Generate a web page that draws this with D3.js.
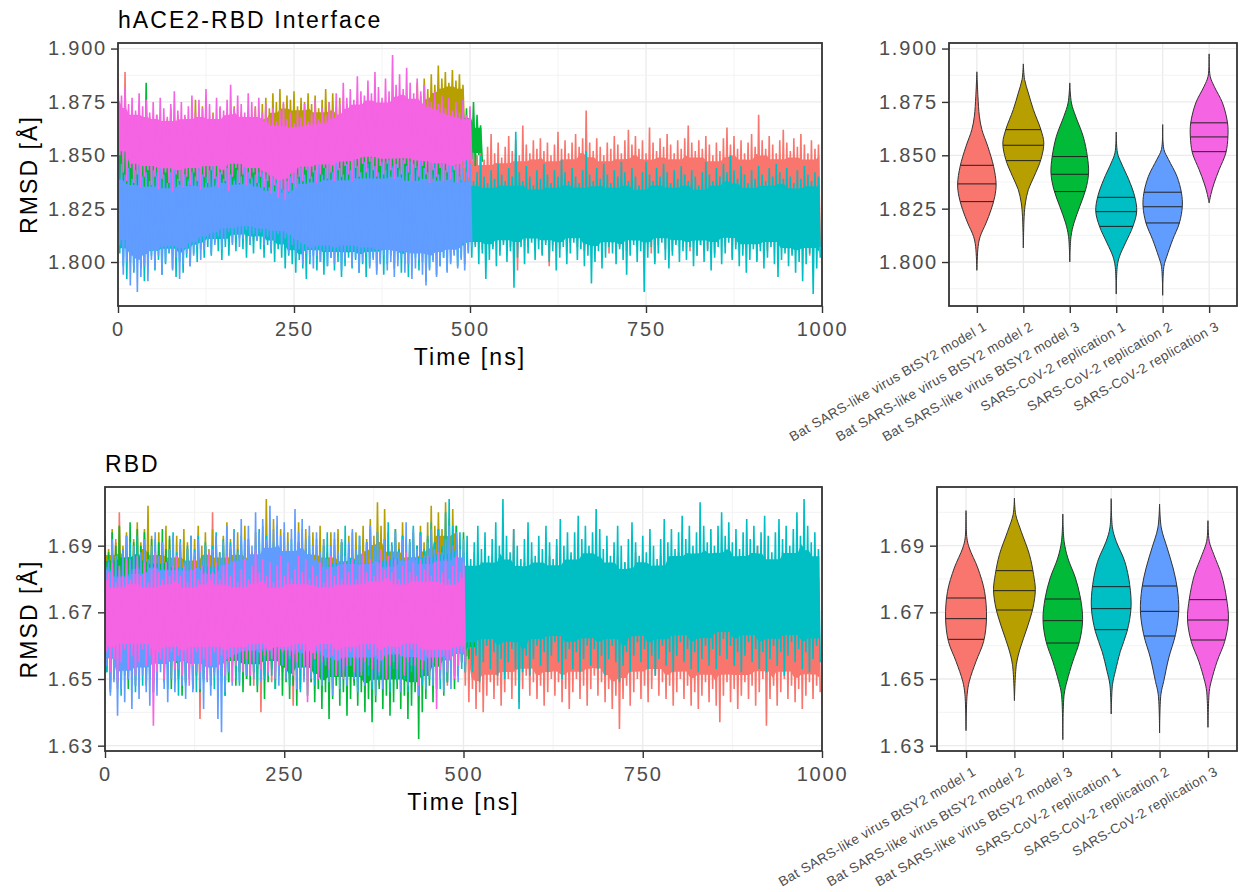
<!DOCTYPE html>
<html>
<head>
<meta charset="utf-8">
<script src="https://cdn.jsdelivr.net/npm/d3@7"></script>
<style>
  body { margin: 0; background: #fff; }
  text { font-family: "Liberation Sans", Arial, sans-serif; letter-spacing: 0.09em; }
</style>
</head>
<body>
<svg id="chart" width="1241" height="892"></svg>
<script>
// groups in the order ggplot draws them
const groups = [
  "Bat SARS-like virus BtSY2 model 1",
  "Bat SARS-like virus BtSY2 model 2",
  "Bat SARS-like virus BtSY2 model 3",
  "SARS-CoV-2 replication 1",
  "SARS-CoV-2 replication 2",
  "SARS-CoV-2 replication 3"
];
const groupColors = ["#F8766D", "#B79F00", "#00BA38", "#00BFC4", "#619CFF", "#F564E3"];

// traces are kept as upper / lower envelope per 5 ns bin,
// in mÅ above a panel base: RMSD = (base + value) / 1000 Å
const binNs = 5;
const timeBreaks = [0, 250, 500, 750, 1000];

// ---- hACE2-RBD interface (base 1780 mÅ) ----
const ifaceBase = 1780;
const ifaceM1Hi = [
  100, 92, 109, 86, 79, 74, 80, 76, 72, 78,
  75, 81, 73, 77, 70, 76, 80, 74, 78, 72,
  77, 73, 79, 75, 71, 78, 74, 80, 76, 72,
  78, 74, 70, 76, 82, 75, 79, 73, 77, 71,
  76, 80, 74, 78, 72, 77, 73, 79, 75, 71,
  77, 73, 78, 74, 80, 76, 72, 78, 74, 81,
  75, 79, 73, 77, 83, 76, 80, 74, 78, 72,
  77, 81, 75, 79, 73, 78, 84, 77, 80, 74,
  78, 73, 79, 75, 81, 76, 72, 78, 74, 80,
  75, 79, 73, 77, 82, 76, 80, 74, 78, 75,
  72, 78, 70, 75, 68, 74, 80, 71, 76, 69,
  74, 79, 72, 77, 70, 84, 75, 71, 77, 73,
  78, 72, 76, 70, 75, 81, 73, 77, 71, 76,
  80, 74, 78, 91, 76, 72, 78, 74, 70, 76,
  73, 79, 75, 71, 77, 82, 75, 79, 73, 77,
  71, 83, 76, 72, 78, 74, 80, 75, 71, 77,
  73, 78, 84, 76, 72, 77, 73, 79, 75, 70,
  76, 72, 78, 83, 75, 79, 73, 77, 71, 76,
  80, 74, 89, 77, 73, 79, 75, 71, 77, 82,
  76, 72, 78, 74, 80, 75, 71, 77, 73, 75
];
const ifaceM1Lo = [
  36, 30, 34, 28, 33, 37, 31, 35, 29, 34,
  38, 32, 36, 30, 35, 39, 33, 37, 31, 36,
  34, 38, 32, 36, 40, 34, 38, 33, 37, 35,
  39, 33, 37, 31, 35, 38, 32, 36, 30, 34,
  37, 31, 35, 29, 33, 36, 30, 34, 28, 32,
  35, 29, 33, 27, 31, 35, 29, 33, 37, 31,
  34, 28, 32, 36, 30, 34, 27, 31, 35, 29,
  33, 37, 31, 35, 28, 32, 36, 30, 34, 29,
  32, 36, 30, 34, 27, 31, 35, 29, 33, 37,
  31, 35, 29, 33, 37, 31, 34, 28, 32, 35,
  33, 28, 31, 26, 30, 34, 27, 31, 25, 29,
  33, 27, 31, 16, 29, 33, 27, 31, 26, 30,
  24, 29, 18, 28, 32, 26, 30, 25, 29, 33,
  27, 31, 25, 29, 33, 28, 32, 26, 30, 24,
  29, 33, 27, 31, 25, 30, 34, 28, 32, 26,
  30, 24, 20, 28, 32, 26, 30, 25, 29, 33,
  27, 31, 25, 29, 23, 28, 32, 26, 30, 24,
  29, 33, 27, 31, 22, 28, 32, 26, 30, 25,
  29, 21, 27, 31, 25, 29, 33, 27, 31, 26,
  30, 24, 28, 32, 26, 30, 23, 28, 32, 27
];
const ifaceM2Hi = [
  88, 84, 90, 86, 82, 87, 91, 85, 83, 88,
  84, 89, 86, 82, 87, 92, 85, 89, 84, 88,
  86, 91, 96, 87, 93, 88, 85, 90, 86, 92,
  88, 84, 89, 93, 86, 90, 85, 91, 87, 93,
  89, 94, 97, 92, 99, 95, 101, 94, 98, 96,
  100, 93, 97, 95, 99, 94, 98, 92, 96, 101,
  95, 99, 93, 97, 90, 94, 89, 93, 88, 92,
  87, 91, 95, 89, 93, 88, 92, 96, 90, 94,
  89, 93, 97, 91, 95, 104, 98, 106, 101, 108,
  103, 112, 106, 109, 104, 110, 105, 108, 103
];
const ifaceM2Lo = [
  58, 53, 57, 51, 56, 60, 54, 58, 52, 56,
  50, 55, 27, 53, 57, 51, 56, 59, 54, 58,
  53, 57, 51, 55, 59, 54, 58, 52, 56, 60,
  55, 59, 53, 57, 51, 56, 60, 54, 58, 53,
  57, 61, 56, 60, 64, 58, 62, 66, 60, 64,
  59, 63, 67, 61, 65, 60, 64, 68, 62, 66,
  61, 65, 59, 63, 67, 62, 66, 60, 64, 68,
  63, 67, 61, 65, 69, 64, 68, 62, 66, 70,
  65, 69, 63, 67, 71, 66, 70, 74, 68, 72,
  76, 72, 78, 74, 80, 75, 79, 73, 77
];
const ifaceM3Hi = [
  84, 88, 80, 86, 82, 79, 85, 81, 104, 83,
  79, 84, 80, 77, 83, 86, 80, 84, 78, 82,
  85, 79, 83, 80, 76, 82, 86, 79, 83, 81,
  77, 82, 78, 84, 80, 76, 81, 85, 79, 83,
  80, 77, 82, 78, 75, 81, 84, 79, 82, 77,
  81, 85, 80, 83, 78, 82, 86, 80, 84, 81,
  86, 82, 88, 84, 81, 87, 83, 89, 85, 82,
  88, 84, 81, 86, 90, 85, 82, 87, 84, 89,
  85, 82, 87, 83, 89, 86, 82, 88, 84, 90,
  86, 83, 88, 85, 91, 87, 93, 89, 96, 92,
  91, 95, 89, 84
];
const ifaceM3Lo = [
  52, 46, 50, 44, 49, 53, 47, 42, 48, 51,
  45, 49, 43, 48, 52, 46, 50, 44, 49, 47,
  51, 45, 49, 43, 47, 52, 46, 50, 44, 48,
  45, 49, 43, 47, 41, 46, 50, 44, 48, 42,
  47, 51, 45, 49, 43, 48, 52, 46, 50, 44,
  48, 52, 46, 50, 54, 49, 53, 47, 51, 45,
  50, 54, 48, 52, 56, 50, 54, 49, 53, 57,
  51, 55, 49, 53, 57, 52, 56, 50, 54, 58,
  52, 56, 50, 54, 58, 53, 57, 51, 55, 59,
  54, 58, 52, 56, 60, 55, 59, 62, 66, 63,
  68, 65, 70, 67
];
const ifaceR1Hi = [
  66, 60, 57, 62, 55, 59, 63, 56, 60, 54,
  58, 62, 55, 59, 53, 57, 61, 56, 60, 55,
  59, 54, 58, 62, 56, 60, 57, 53, 58, 61,
  56, 60, 55, 59, 63, 57, 61, 56, 60, 58,
  62, 57, 61, 55, 59, 64, 58, 62, 56, 60,
  57, 61, 65, 59, 63, 58, 62, 56, 60, 64,
  58, 62, 66, 60, 57, 63, 59, 64, 61, 58,
  62, 66, 60, 64, 59, 63, 67, 61, 65, 60,
  64, 59, 63, 67, 61, 65, 60, 64, 58, 62,
  66, 61, 65, 60, 64, 68, 62, 66, 61, 68,
  64, 58, 62, 70, 60, 57, 63, 59, 66, 61,
  58, 64, 60, 81, 62, 58, 65, 60, 56, 63,
  59, 66, 61, 57, 63, 60, 68, 62, 58, 64,
  60, 57, 63, 72, 61, 58, 64, 59, 66, 61,
  57, 63, 60, 67, 62, 58, 64, 60, 56, 62,
  67, 61, 58, 64, 60, 66, 62, 57, 63, 59,
  65, 61, 58, 63, 60, 56, 62, 67, 61, 58,
  64, 60, 66, 62, 70, 63, 59, 65, 61, 57,
  63, 59, 65, 61, 58, 64, 60, 66, 62, 59,
  64, 60, 57, 63, 59, 65, 61, 58, 62, 60
];
const ifaceR1Lo = [
  24, 18, 12, 20, 15, 22, 17, 11, 19, 23,
  16, 21, 14, 19, 24, 17, 13, 20, 15, 22,
  18, 24, 20, 26, 22, 27, 23, 29, 25, 21,
  27, 23, 29, 25, 31, 26, 22, 28, 24, 30,
  26, 22, 28, 24, 20, 26, 22, 17, 23, 19,
  15, 21, 17, 12, 19, 23, 16, 20, 14, 18,
  22, 16, 20, 13, 18, 22, 17, 21, 15, 19,
  13, 18, 22, 16, 20, 14, 19, 23, 17, 21,
  15, 19, 13, 18, 22, 16, 20, 11, 17, 21,
  14, 18, 22, 16, 20, 24, 18, 22, 19, 25,
  22, 27, 19, 24, 12, 21, 26, 18, 23, 28,
  20, 25, 8, 22, 27, 19, 24, 29, 21, 26,
  23, 28, 20, 25, 16, 22, 27, 19, 24, 29,
  21, 26, 18, 23, 10, 20, 25, 17, 22, 27,
  24, 19, 26, 21, 14, 23, 28, 20, 25, 6,
  22, 27, 19, 24, 29, 21, 17, 23, 28, 20,
  25, 21, 27, 18, 23, 28, 20, 25, 16, 22,
  27, 19, 24, 29, 21, 26, 18, 23, 15, 21,
  26, 20, 25, 17, 22, 27, 19, 13, 21, 24,
  18, 23, 15, 20, 11, 19, 24, 5, 17, 22
];
const ifaceR2Hi = [
  72, 66, 61, 64, 59, 63, 67, 60, 62, 58,
  63, 60, 65, 61, 57, 62, 66, 59, 63, 61,
  58, 62, 60, 64, 61, 57, 63, 66, 60, 62,
  59, 64, 61, 58, 63, 60, 65, 62, 59, 61,
  57, 62, 59, 55, 60, 57, 61, 54, 58, 60,
  62, 59, 64, 61, 65, 60, 63, 67, 61, 64,
  66, 62, 68, 64, 61, 66, 63, 69, 65, 62,
  67, 64, 69, 65, 62, 67, 63, 68, 64, 66,
  63, 68, 65, 61, 66, 63, 69, 64, 62, 67,
  64, 61, 66, 63, 68, 62, 65, 60, 64, 62,
  66
];
const ifaceR2Lo = [
  28, 14, 20, 9, 16, 6, 13, 18, 11, 21,
  17, 23, 14, 20, 25, 16, 22, 12, 19, 24,
  18, 23, 27, 21, 26, 30, 24, 28, 32, 26,
  30, 34, 28, 32, 27, 31, 35, 29, 33, 30,
  34, 28, 32, 26, 30, 33, 27, 31, 24, 28,
  22, 26, 19, 24, 21, 17, 23, 20, 25, 18,
  22, 19, 24, 16, 21, 25, 18, 22, 15, 20,
  24, 17, 21, 14, 19, 23, 16, 20, 13, 18,
  22, 15, 19, 12, 17, 21, 14, 9, 16, 20,
  13, 18, 22, 15, 19, 23, 17, 21, 16, 24,
  27
];
const ifaceR3Hi = [
  106, 98, 102, 94, 97, 91, 99, 93, 96, 90,
  95, 89, 97, 92, 88, 94, 100, 91, 95, 89,
  93, 98, 90, 96, 92, 101, 94, 89, 97, 93,
  91, 96, 103, 92, 98, 94, 90, 99, 95, 92,
  97, 90, 94, 88, 92, 86, 91, 95, 87, 90,
  85, 91, 88, 94, 86, 90, 96, 87, 92, 89,
  95, 91, 99, 94, 104, 97, 101, 96, 107, 100,
  98, 105, 99, 109, 102, 97, 106, 100, 117, 103,
  108, 101, 111, 104, 99, 106, 100, 103, 97, 95,
  100, 94, 98, 92, 97, 91, 95, 90, 96, 89,
  93
];
const ifaceR3Lo = [
  70, 62, 58, 64, 57, 61, 55, 60, 63, 56,
  60, 54, 59, 62, 57, 53, 61, 58, 55, 60,
  56, 62, 58, 54, 60, 57, 63, 59, 55, 61,
  58, 53, 60, 64, 57, 61, 56, 59, 62, 57,
  60, 55, 58, 52, 56, 50, 54, 49, 53, 57,
  55, 60, 58, 63, 59, 62, 57, 61, 64, 59,
  62, 58, 63, 60, 65, 61, 58, 64, 60, 66,
  62, 67, 63, 60, 65, 61, 66, 63, 59, 64,
  61, 66, 62, 58, 64, 60, 65, 61, 57, 63,
  60, 64, 58, 62, 59, 63, 57, 61, 64, 60,
  66
];

// ---- RBD (base 1630 mÅ) ----
const rbdBase = 1630;
const rbdM1Hi = [
  58, 53, 57, 62, 70, 55, 51, 57, 53, 58,
  52, 56, 51, 55, 60, 54, 50, 56, 52, 57,
  53, 58, 52, 56, 51, 55, 59, 54, 50, 56,
  70, 55, 51, 57, 53, 58, 52, 56, 51, 55,
  59, 53, 57, 52, 56, 50, 55, 59, 54, 58,
  52, 56, 51, 55, 60, 54, 58, 53, 57, 52,
  56, 51, 55, 59, 53, 57, 52, 56, 50, 55,
  59, 53, 57, 52, 56, 61, 55, 59, 54, 58,
  53, 57, 52, 56, 51, 55, 59, 54, 58, 53,
  57, 52, 56, 60, 54, 58, 53, 57, 52, 56,
  54, 49, 53, 58, 51, 55, 49, 53, 57, 50,
  54, 48, 52, 56, 65, 53, 49, 55, 51, 56,
  50, 54, 48, 52, 57, 51, 60, 54, 49, 53,
  57, 51, 55, 49, 53, 58, 52, 63, 55, 50,
  54, 48, 52, 57, 51, 55, 49, 53, 58, 52,
  56, 50, 54, 48, 52, 57, 51, 55, 49, 54,
  58, 52, 56, 50, 54, 49, 53, 57, 51, 55,
  49, 53, 58, 52, 56, 50, 54, 48, 53, 57,
  51, 55, 60, 53, 57, 51, 55, 49, 54, 58,
  52, 56, 50, 54, 59, 53, 57, 51, 55, 50
];
const rbdM1Lo = [
  24, 19, 23, 17, 22, 26, 20, 24, 18, 23,
  27, 21, 25, 19, 24, 28, 22, 26, 20, 25,
  21, 25, 19, 23, 17, 22, 8, 20, 24, 18,
  23, 27, 21, 25, 19, 24, 28, 22, 26, 20,
  24, 18, 23, 10, 21, 25, 19, 24, 28, 22,
  26, 20, 12, 22, 26, 20, 25, 19, 23, 27,
  21, 25, 19, 24, 28, 22, 26, 20, 25, 19,
  23, 27, 21, 26, 20, 24, 18, 23, 27, 21,
  25, 19, 24, 28, 22, 26, 20, 25, 19, 23,
  27, 21, 26, 20, 24, 18, 23, 27, 21, 25,
  18, 13, 17, 11, 16, 10, 15, 19, 14, 18,
  12, 16, 20, 14, 18, 13, 17, 21, 15, 19,
  14, 18, 12, 16, 20, 15, 19, 13, 17, 11,
  16, 20, 14, 18, 12, 17, 21, 15, 19, 13,
  17, 11, 15, 5, 14, 18, 12, 16, 20, 14,
  18, 13, 17, 21, 15, 19, 14, 18, 12, 16,
  20, 14, 18, 12, 16, 11, 15, 19, 13, 17,
  12, 7, 15, 19, 13, 17, 11, 15, 19, 14,
  18, 12, 16, 20, 6, 14, 18, 12, 16, 20,
  14, 18, 13, 17, 11, 15, 19, 14, 18, 16
];
const rbdM2Hi = [
  63, 59, 65, 61, 66, 60, 64, 58, 62, 67,
  61, 65, 72, 63, 59, 64, 60, 66, 62, 58,
  63, 59, 65, 61, 57, 62, 66, 60, 64, 59,
  65, 61, 58, 63, 67, 62, 59, 64, 60, 66,
  62, 58, 64, 60, 66, 74, 63, 68, 61, 65,
  60, 64, 58, 63, 67, 61, 65, 59, 64, 60,
  66, 62, 58, 64, 60, 65, 61, 57, 63, 59,
  64, 60, 66, 62, 68, 63, 73, 66, 71, 64,
  60, 65, 61, 67, 62, 58, 64, 60, 66, 61,
  67, 72, 66, 70, 65, 73, 68, 71, 66
];
const rbdM2Lo = [
  35, 30, 34, 29, 33, 37, 31, 35, 30, 34,
  28, 33, 25, 31, 35, 30, 34, 29, 33, 37,
  31, 35, 29, 34, 38, 32, 36, 30, 34, 29,
  33, 37, 31, 35, 30, 34, 28, 32, 36, 31,
  35, 29, 33, 37, 31, 36, 30, 34, 28, 32,
  36, 31, 35, 29, 33, 37, 32, 36, 30, 34,
  29, 33, 37, 31, 35, 30, 34, 28, 32, 36,
  31, 35, 29, 33, 38, 32, 36, 30, 34, 29,
  33, 37, 31, 35, 30, 34, 38, 32, 36, 31,
  35, 30, 34, 38, 32, 36, 31, 35, 33
];
const rbdM3Hi = [
  62, 58, 64, 60, 66, 59, 63, 67, 61, 65,
  60, 64, 58, 62, 57, 61, 65, 59, 63, 58,
  56, 60, 55, 59, 63, 57, 61, 56, 60, 54,
  58, 62, 56, 60, 55, 59, 63, 57, 61, 56,
  60, 54, 58, 62, 57, 61, 55, 59, 63, 58,
  54, 58, 53, 57, 61, 55, 59, 54, 58, 52,
  56, 60, 54, 58, 53, 57, 61, 55, 59, 54,
  58, 53, 57, 61, 55, 59, 54, 58, 62, 56,
  60, 55, 59, 63, 57, 61, 56, 60, 64, 58,
  62, 57, 61, 65, 59, 63, 58, 62, 66, 60,
  64, 58, 53, 49
];
const rbdM3Lo = [
  22, 16, 20, 25, 18, 23, 17, 21, 26, 19,
  24, 18, 22, 16, 21, 25, 19, 23, 17, 22,
  20, 15, 19, 23, 17, 21, 16, 20, 24, 18,
  22, 17, 21, 15, 19, 23, 18, 22, 16, 20,
  18, 22, 16, 20, 14, 19, 23, 17, 21, 15,
  19, 14, 18, 12, 17, 21, 15, 19, 13, 17,
  11, 16, 8, 14, 18, 12, 16, 9, 14, 18,
  12, 16, 10, 14, 7, 13, 17, 11, 15, 9,
  13, 17, 11, 15, 8, 12, 16, 2, 10, 14,
  18, 13, 17, 21, 15, 19, 23, 17, 21, 25,
  22, 26, 24, 28
];
const rbdR1Hi = [
  60, 56, 62, 57, 53, 59, 55, 61, 57, 63,
  56, 60, 54, 58, 62, 57, 61, 55, 59, 64,
  58, 62, 56, 60, 55, 59, 63, 57, 61, 56,
  60, 64, 58, 62, 57, 61, 65, 59, 63, 58,
  62, 56, 60, 65, 59, 63, 57, 61, 66, 60,
  64, 58, 62, 57, 61, 65, 59, 63, 58, 62,
  56, 60, 64, 58, 62, 57, 61, 66, 60, 64,
  59, 63, 57, 61, 65, 60, 64, 58, 62, 67,
  61, 65, 59, 63, 58, 62, 66, 60, 64, 59,
  63, 67, 61, 65, 60, 70, 74, 66, 62, 64,
  58, 63, 56, 61, 66, 59, 64, 57, 62, 67,
  60, 74, 63, 58, 65, 60, 56, 62, 67, 61,
  57, 63, 59, 66, 61, 56, 62, 68, 60, 64,
  58, 64, 69, 62, 66, 60, 64, 71, 65, 59,
  63, 57, 61, 66, 60, 55, 62, 67, 61, 57,
  63, 58, 65, 60, 56, 62, 68, 61, 65, 59,
  64, 69, 62, 66, 60, 64, 73, 66, 61, 65,
  60, 66, 70, 63, 67, 61, 65, 59, 64, 68,
  62, 66, 60, 64, 69, 63, 58, 64, 68, 62,
  66, 60, 65, 70, 63, 74, 66, 61, 64, 59
];
const rbdR1Lo = [
  22, 17, 24, 19, 15, 21, 26, 20, 16, 23,
  18, 25, 20, 16, 22, 27, 21, 17, 24, 19,
  15, 22, 18, 25, 20, 16, 23, 19, 26, 21,
  17, 24, 19, 15, 22, 26, 20, 18, 25, 21,
  27, 22, 18, 24, 20, 26, 21, 17, 23, 28,
  22, 18, 25, 20, 16, 23, 27, 21, 18, 24,
  19, 25, 21, 17, 23, 28, 22, 18, 24, 20,
  16, 22, 27, 21, 17, 24, 19, 25, 21, 16,
  23, 19, 25, 20, 16, 22, 27, 21, 18, 24,
  20, 26, 22, 17, 24, 19, 25, 21, 27, 23,
  24, 29, 22, 27, 19, 25, 30, 23, 28, 21,
  26, 20, 25, 29, 23, 11, 22, 27, 21, 26,
  30, 24, 28, 22, 27, 31, 25, 20, 26, 29,
  23, 28, 22, 26, 30, 24, 29, 23, 27, 21,
  26, 30, 25, 19, 24, 28, 22, 27, 31, 25,
  29, 23, 27, 21, 26, 30, 24, 28, 22, 27,
  31, 25, 29, 23, 28, 22, 26, 30, 24, 29,
  23, 27, 32, 26, 30, 24, 28, 22, 27, 31,
  25, 29, 23, 28, 22, 26, 30, 24, 28, 21,
  27, 31, 25, 29, 23, 28, 22, 26, 30, 25
];
const rbdR2Hi = [
  60, 55, 62, 57, 53, 59, 63, 56, 60, 54,
  58, 62, 56, 60, 64, 57, 61, 55, 59, 63,
  57, 61, 55, 59, 63, 58, 62, 56, 60, 54,
  59, 63, 57, 61, 66, 60, 64, 58, 68, 62,
  66, 60, 70, 64, 68, 62, 72, 65, 69, 63,
  67, 61, 65, 71, 64, 68, 62, 66, 60, 64,
  58, 62, 56, 60, 64, 58, 62, 57, 61, 65,
  59, 63, 57, 61, 66, 60, 64, 58, 62, 56,
  60, 64, 58, 62, 67, 61, 65, 59, 63, 57,
  61, 65, 59, 63, 58, 62, 66, 60, 64, 59,
  62
];
const rbdR2Lo = [
  24, 15, 19, 9, 17, 13, 20, 11, 18, 14,
  21, 16, 12, 19, 15, 22, 17, 13, 20, 16,
  23, 18, 14, 20, 16, 22, 17, 11, 19, 15,
  21, 8, 4, 16, 22, 18, 24, 19, 25, 21,
  26, 20, 24, 19, 25, 21, 27, 22, 18, 24,
  20, 26, 21, 17, 23, 19, 25, 20, 26, 22,
  18, 24, 19, 15, 21, 17, 23, 18, 24, 20,
  16, 22, 18, 24, 19, 15, 21, 17, 23, 19,
  25, 20, 16, 22, 18, 24, 19, 15, 21, 17,
  23, 18, 24, 20, 16, 22, 17, 23, 19, 25,
  22
];
const rbdR3Hi = [
  58, 52, 55, 49, 54, 51, 56, 50, 53, 57,
  51, 55, 49, 53, 58, 52, 50, 55, 51, 54,
  57, 51, 54, 49, 53, 56, 50, 54, 52, 58,
  52, 55, 50, 54, 57, 51, 55, 49, 53, 56,
  50, 54, 59, 52, 56, 51, 55, 49, 54, 57,
  51, 55, 50, 53, 57, 52, 56, 50, 54, 51,
  55, 49, 53, 57, 51, 54, 50, 55, 52, 56,
  50, 54, 58, 52, 56, 51, 55, 59, 53, 57,
  52, 56, 50, 54, 58, 52, 55, 51, 56, 53,
  57, 51, 55, 58, 52, 56, 50, 54, 57, 52,
  55
];
const rbdR3Lo = [
  28, 22, 26, 19, 25, 29, 23, 27, 21, 25,
  29, 24, 27, 6, 22, 26, 20, 25, 28, 23,
  27, 21, 25, 18, 24, 28, 22, 26, 20, 24,
  28, 23, 27, 21, 25, 19, 24, 28, 22, 26,
  21, 25, 29, 23, 27, 22, 26, 20, 24, 28,
  23, 27, 21, 25, 29, 24, 13, 22, 26, 20,
  25, 29, 23, 27, 21, 26, 20, 24, 28, 22,
  26, 21, 25, 29, 23, 27, 22, 26, 20, 24,
  28, 23, 27, 21, 25, 29, 24, 18, 23, 27,
  21, 25, 11, 23, 27, 22, 26, 20, 24, 28,
  25
];

// ---- violin profiles: RMSD level (Å) and relative density width ----
const ifaceViolinLevels = [
  [1.8891, 1.8777, 1.8683, 1.8620, 1.8542, 1.8448, 1.8366, 1.8308, 1.8245, 1.8183, 1.8120, 1.8073, 1.7961],
  [1.8928, 1.8855, 1.8792, 1.8714, 1.8620, 1.8558, 1.8480, 1.8402, 1.8339, 1.8277, 1.8214, 1.8066],
  [1.8839, 1.8745, 1.8683, 1.8589, 1.8495, 1.8417, 1.8339, 1.8261, 1.8183, 1.8120, 1.8000],
  [1.8609, 1.8511, 1.8464, 1.8386, 1.8308, 1.8238, 1.8167, 1.8089, 1.8027, 1.7980, 1.7850],
  [1.8644, 1.8527, 1.8480, 1.8402, 1.8323, 1.8261, 1.8183, 1.8105, 1.8027, 1.7980, 1.7844],
  [1.8975, 1.8870, 1.8823, 1.8745, 1.8652, 1.8589, 1.8511, 1.8433, 1.8370, 1.8323, 1.8277]
];
const ifaceViolinDensity = [
  [0, 0.05, 0.12, 0.24, 0.52, 0.80, 0.92, 0.86, 0.68, 0.44, 0.16, 0.06, 0],
  [0, 0.06, 0.24, 0.48, 0.84, 0.98, 0.84, 0.52, 0.24, 0.10, 0.04, 0],
  [0, 0.08, 0.28, 0.64, 0.84, 0.90, 0.76, 0.48, 0.20, 0.06, 0],
  [0, 0.06, 0.24, 0.60, 0.88, 0.98, 0.80, 0.44, 0.16, 0.05, 0],
  [0, 0.06, 0.28, 0.68, 0.90, 0.94, 0.80, 0.48, 0.20, 0.06, 0],
  [0, 0.05, 0.24, 0.64, 0.88, 0.90, 0.80, 0.48, 0.24, 0.10, 0]
];
const ifaceQuantiles = [
  [1.8283, 1.8366, 1.8453],
  [1.8475, 1.8547, 1.8620],
  [1.8330, 1.8411, 1.8494],
  [1.8167, 1.8236, 1.8303],
  [1.8183, 1.8259, 1.8327],
  [1.8517, 1.8586, 1.8652]
];
const rbdViolinLevels = [
  [1.7005, 1.6923, 1.6893, 1.6833, 1.6763, 1.6683, 1.6613, 1.6553, 1.6493, 1.6453, 1.6345],
  [1.7043, 1.6993, 1.6943, 1.6873, 1.6813, 1.6768, 1.6713, 1.6653, 1.6593, 1.6543, 1.6435],
  [1.6995, 1.6913, 1.6863, 1.6803, 1.6743, 1.6678, 1.6613, 1.6553, 1.6493, 1.6453, 1.6318],
  [1.7041, 1.6953, 1.6913, 1.6853, 1.6783, 1.6713, 1.6643, 1.6583, 1.6523, 1.6483, 1.6395],
  [1.7025, 1.6953, 1.6893, 1.6833, 1.6773, 1.6703, 1.6633, 1.6563, 1.6493, 1.6453, 1.6338],
  [1.6975, 1.6913, 1.6873, 1.6813, 1.6743, 1.6678, 1.6613, 1.6553, 1.6493, 1.6463, 1.6355]
];
const rbdViolinDensity = [
  [0, 0.04, 0.15, 0.54, 0.85, 0.94, 0.81, 0.46, 0.15, 0.05, 0],
  [0, 0.06, 0.31, 0.69, 0.88, 0.96, 0.85, 0.58, 0.27, 0.09, 0],
  [0, 0.06, 0.23, 0.58, 0.81, 0.91, 0.77, 0.46, 0.19, 0.06, 0],
  [0, 0.06, 0.23, 0.62, 0.85, 0.91, 0.73, 0.42, 0.19, 0.06, 0],
  [0, 0.08, 0.35, 0.62, 0.81, 0.88, 0.73, 0.42, 0.19, 0.06, 0],
  [0, 0.06, 0.27, 0.62, 0.85, 0.94, 0.77, 0.42, 0.15, 0.06, 0]
];
const rbdQuantiles = [
  [1.6619, 1.6681, 1.6743],
  [1.6707, 1.6765, 1.6825],
  [1.6608, 1.6675, 1.6740],
  [1.6648, 1.6711, 1.6777],
  [1.6629, 1.6703, 1.6779],
  [1.6617, 1.6677, 1.6738]
];

const ifaceBreaks = [1.800, 1.825, 1.850, 1.875, 1.900];
const rbdBreaks = [1.63, 1.65, 1.67, 1.69];

const svg = d3.select("#chart");
const tickLen = 7;

// hi / lo envelope as a zigzag polyline in (ns, Å)
function zigzag(s) {
  const pts = [];
  s.hi.forEach((h, i) => {
    pts.push([i * binNs, (s.base + h) / 1000]);
    if (s.lo[i] !== undefined) pts.push([i * binNs + binNs / 2, (s.base + s.lo[i]) / 1000]);
  });
  return pts;
}

// solid middle of a trace, inside the neighbouring hi / lo values
function core(s) {
  const n = Math.min(s.hi.length, s.lo.length);
  return d3.range(n).map(i => {
    const a = Math.max(0, i - 2), b = Math.min(n, i + 3);
    const top = d3.min(s.hi.slice(a, b)), bot = d3.max(s.lo.slice(a, b));
    const mid = (top + bot) / 2, k = 0.85;
    return [i * binNs + binNs / 4,
      (s.base + mid + (top - mid) * k) / 1000,
      (s.base + mid - (mid - bot) * k) / 1000];
  });
}

// ggplot style: data range plus 5% on each side
function expandedDomain(series) {
  const all = series.flatMap(s => s.hi.concat(s.lo).map(v => (s.base + v) / 1000));
  const [a, b] = d3.extent(all);
  const pad = (b - a) * 0.05;
  return [a - pad, b + pad];
}

function minorBreaks(breaks, domain) {
  const step = breaks[1] - breaks[0];
  const out = [breaks[0] - step / 2];
  breaks.forEach(b => out.push(b + step / 2));
  return out.filter(v => v >= domain[0] && v <= domain[1]);
}

function drawGridY(g, y, x0, x1, breaks) {
  g.selectAll(null).data(minorBreaks(breaks, y.domain())).join("line")
    .attr("x1", x0).attr("x2", x1)
    .attr("y1", d => y(d)).attr("y2", d => y(d))
    .attr("stroke", "#f2f2f2").attr("stroke-width", 0.9);
  g.selectAll(null).data(breaks).join("line")
    .attr("x1", x0).attr("x2", x1)
    .attr("y1", d => y(d)).attr("y2", d => y(d))
    .attr("stroke", "#ebebeb").attr("stroke-width", 1.3);
}

function styleAxis(ax) {
  ax.select(".domain").remove();
  ax.selectAll(".tick line").attr("stroke", "#333333").attr("stroke-width", 1.4);
  ax.selectAll(".tick text").attr("fill", "#4d4d4d").style("font-size", "20px");
}

function yAxisTitle(cy) {
  svg.append("text")
    .attr("transform", `translate(37,${cy}) rotate(-90)`)
    .attr("text-anchor", "middle")
    .style("font-size", "23px")
    .attr("fill", "#000")
    .text("RMSD [Å]");
}

function timePanel(box, series, breaks, fmt, title, clipId) {
  const x = d3.scaleLinear().domain([0, 1000]).range([box.left, box.right]);
  const y = d3.scaleLinear().domain(expandedDomain(series)).range([box.bottom, box.top]);
  const g = svg.append("g");

  const timeMinor = timeBreaks.slice(1).map((b, i) => (b + timeBreaks[i]) / 2);
  g.selectAll(null).data(timeMinor).join("line")
    .attr("x1", d => x(d)).attr("x2", d => x(d))
    .attr("y1", box.top).attr("y2", box.bottom)
    .attr("stroke", "#f2f2f2").attr("stroke-width", 0.9);
  g.selectAll(null).data(timeBreaks).join("line")
    .attr("x1", d => x(d)).attr("x2", d => x(d))
    .attr("y1", box.top).attr("y2", box.bottom)
    .attr("stroke", "#ebebeb").attr("stroke-width", 1.3);
  drawGridY(g, y, box.left, box.right, breaks);

  svg.append("clipPath").attr("id", clipId).append("rect")
    .attr("x", box.left).attr("y", box.top)
    .attr("width", box.right - box.left).attr("height", box.bottom - box.top);

  const line = d3.line().x(d => x(d[0])).y(d => y(d[1]));
  const band = d3.area().x(d => x(d[0])).y0(d => y(d[2])).y1(d => y(d[1]));
  const traces = g.append("g").attr("clip-path", `url(#${clipId})`);
  series.forEach(s => {
    traces.append("path")
      .attr("d", band(core(s)))
      .attr("fill", s.color);
    traces.append("path")
      .attr("d", line(zigzag(s)))
      .attr("fill", "none")
      .attr("stroke", s.color)
      .attr("stroke-width", 1.6);
  });

  g.append("rect")
    .attr("x", box.left).attr("y", box.top)
    .attr("width", box.right - box.left).attr("height", box.bottom - box.top)
    .attr("fill", "none").attr("stroke", "#333333").attr("stroke-width", 1.8);

  const ay = g.append("g").attr("transform", `translate(${box.left},0)`)
    .call(d3.axisLeft(y).tickValues(breaks).tickFormat(d3.format(fmt)).tickSize(tickLen).tickPadding(4));
  styleAxis(ay);
  const ax = g.append("g").attr("transform", `translate(0,${box.bottom})`)
    .call(d3.axisBottom(x).tickValues(timeBreaks).tickFormat(d3.format("d")).tickSize(tickLen).tickPadding(9));
  styleAxis(ax);

  g.append("text")
    .attr("x", (box.left + box.right) / 2).attr("y", box.bottom + 59)
    .attr("text-anchor", "middle").style("font-size", "23px").attr("fill", "#000")
    .text("Time [ns]");
  g.append("text")
    .attr("x", box.left).attr("y", box.top - 15)
    .style("font-size", "23px").attr("fill", "#000")
    .text(title);
  yAxisTitle((box.top + box.bottom) / 2);
  return y.domain();
}

function violinPanel(box, yDomain, levels, density, quantiles, breaks, fmt) {
  const x = d3.scalePoint().domain(groups).range([box.left, box.right]).padding(0.6);
  const y = d3.scaleLinear().domain(yDomain).range([box.bottom, box.top]);
  const half = x.step() * 0.45;
  const g = svg.append("g");

  g.selectAll(null).data(groups).join("line")
    .attr("x1", d => x(d)).attr("x2", d => x(d))
    .attr("y1", box.top).attr("y2", box.bottom)
    .attr("stroke", "#ebebeb").attr("stroke-width", 1.3);
  drawGridY(g, y, box.left, box.right, breaks);

  groups.forEach((name, i) => {
    const cx = x(name);
    const prof = levels[i].map((v, j) => [v, density[i][j]]);
    const area = d3.area()
      .curve(d3.curveCatmullRom.alpha(0.5))
      .y(d => y(d[0]))
      .x0(d => cx - d[1] * half)
      .x1(d => cx + d[1] * half);
    g.append("path")
      .attr("d", area(prof))
      .attr("fill", groupColors[i])
      .attr("stroke", "#333333")
      .attr("stroke-width", 1);
    const widthAt = d3.scaleLinear().domain(levels[i]).range(density[i]);
    g.selectAll(null).data(quantiles[i]).join("line")
      .attr("x1", q => cx - widthAt(q) * half)
      .attr("x2", q => cx + widthAt(q) * half)
      .attr("y1", q => y(q)).attr("y2", q => y(q))
      .attr("stroke", "#222").attr("stroke-width", 1);
  });

  g.append("rect")
    .attr("x", box.left).attr("y", box.top)
    .attr("width", box.right - box.left).attr("height", box.bottom - box.top)
    .attr("fill", "none").attr("stroke", "#333333").attr("stroke-width", 1.8);

  const ay = g.append("g").attr("transform", `translate(${box.left},0)`)
    .call(d3.axisLeft(y).tickValues(breaks).tickFormat(d3.format(fmt)).tickSize(tickLen).tickPadding(4));
  styleAxis(ay);
  const ax = g.append("g").attr("transform", `translate(0,${box.bottom})`)
    .call(d3.axisBottom(x).tickSize(tickLen).tickFormat(""));
  styleAxis(ax);

  g.selectAll(null).data(groups).join("text")
    .attr("transform", d => `translate(${x(d) + 6},${box.bottom + 15}) rotate(-30)`)
    .attr("text-anchor", "end")
    .attr("dy", "0.7em")
    .attr("fill", "#4d4d4d")
    .style("font-size", "13.5px")
    .style("letter-spacing", "0.03em")
    .text(d => d);
}

const ifaceSeries = [
  [ifaceM1Hi, ifaceM1Lo], [ifaceM2Hi, ifaceM2Lo], [ifaceM3Hi, ifaceM3Lo],
  [ifaceR1Hi, ifaceR1Lo], [ifaceR2Hi, ifaceR2Lo], [ifaceR3Hi, ifaceR3Lo]
].map(([hi, lo], i) => ({ hi, lo, base: ifaceBase, color: groupColors[i] }));
const rbdSeries = [
  [rbdM1Hi, rbdM1Lo], [rbdM2Hi, rbdM2Lo], [rbdM3Hi, rbdM3Lo],
  [rbdR1Hi, rbdR1Lo], [rbdR2Hi, rbdR2Lo], [rbdR3Hi, rbdR3Lo]
].map(([hi, lo], i) => ({ hi, lo, base: rbdBase, color: groupColors[i] }));

const topDomain = timePanel({ left: 118, right: 822, top: 43, bottom: 306 },
  ifaceSeries, ifaceBreaks, ".3f", "hACE2-RBD Interface", "clipTop");
violinPanel({ left: 949, right: 1237, top: 43, bottom: 306 },
  topDomain, ifaceViolinLevels, ifaceViolinDensity, ifaceQuantiles, ifaceBreaks, ".3f");

const botDomain = timePanel({ left: 105, right: 822, top: 487, bottom: 751 },
  rbdSeries, rbdBreaks, ".2f", "RBD", "clipBot");
violinPanel({ left: 937, right: 1237, top: 487, bottom: 751 },
  botDomain, rbdViolinLevels, rbdViolinDensity, rbdQuantiles, rbdBreaks, ".2f");
</script>
</body>
</html>
